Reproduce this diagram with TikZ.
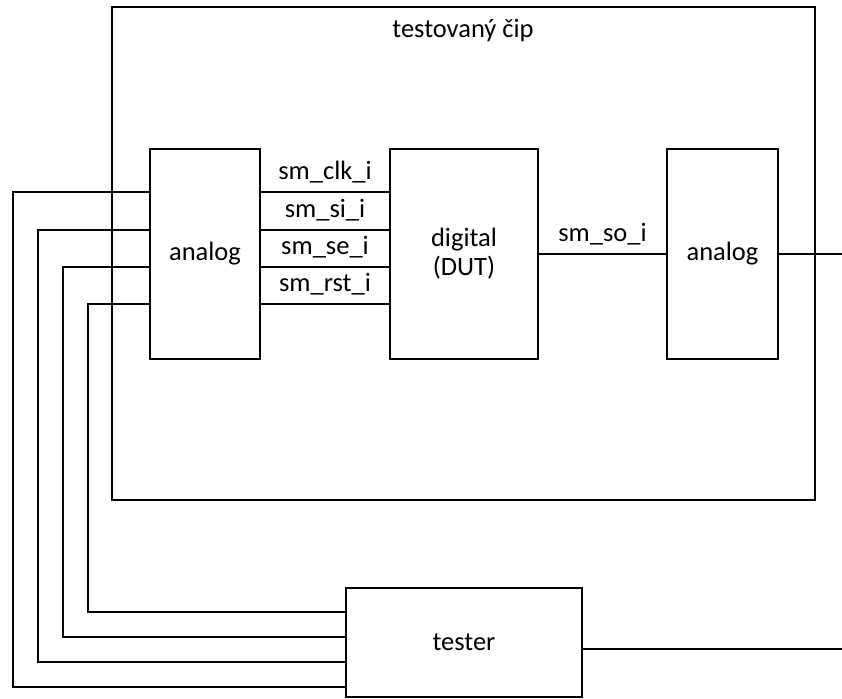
\documentclass[tikz,border=0pt]{standalone}
\usepackage{fontspec}
\setmainfont{Carlito}
\begin{document}
\begin{tikzpicture}[x=1pt,y=-1pt,
  box/.style={draw, line width=1.2pt, inner sep=0pt, align=center, font=\fontsize{26.5}{29}\selectfont},
  wire/.style={line width=1.2pt},
  lbl/.style={font=\fontsize{26.5}{29}\selectfont, inner sep=0pt}]
\useasboundingbox (0,0) rectangle (842,698);
% chip
\node[box, minimum width=703pt, minimum height=493pt] (chip) at (463.5,253.5) {};
\node[lbl, anchor=base] (title) at (463,38) {testovaný čip};
% blocks
\node[box, minimum width=110pt, minimum height=210pt] (an1) at (205,254) {analog};
\node[box, minimum width=148pt, minimum height=210pt] (dig) at (464,254) {digital\\(DUT)};
\node[box, minimum width=111pt, minimum height=210pt] (an2) at (722.5,254) {analog};
\node[box, minimum width=236pt, minimum height=109pt] (tst) at (464,642.5) {tester};
% internal signals
\foreach \yy/\name in {192/sm\_clk\_i, 230/sm\_si\_i, 267/sm\_se\_i, 304/sm\_rst\_i}{
  \draw[wire] (an1.east |- 0,\yy) -- (dig.west |- 0,\yy)
    node[lbl, midway, anchor=base, yshift=12.5pt] {\name};
}
\draw[wire] (dig.east |- 0,254) -- (an2.west |- 0,254)
  node[lbl, midway, anchor=base, yshift=12.5pt] {sm\_so\_i};
\coordinate (outA) at (842,254);
\coordinate (outT) at (842,649);
\draw[wire] (an2.east |- 0,254) -- (outA);
\draw[wire] (tst.east |- 0,649) -- (outT);
% tester wires
\foreach \ya/\xx/\yt in {192/13/687, 230/38/662, 267/63/637, 304/88/612}{
  \draw[wire] (an1.west |- 0,\ya) -| (\xx,\yt) -- (tst.west |- 0,\yt);
}
\end{tikzpicture}
\end{document}
